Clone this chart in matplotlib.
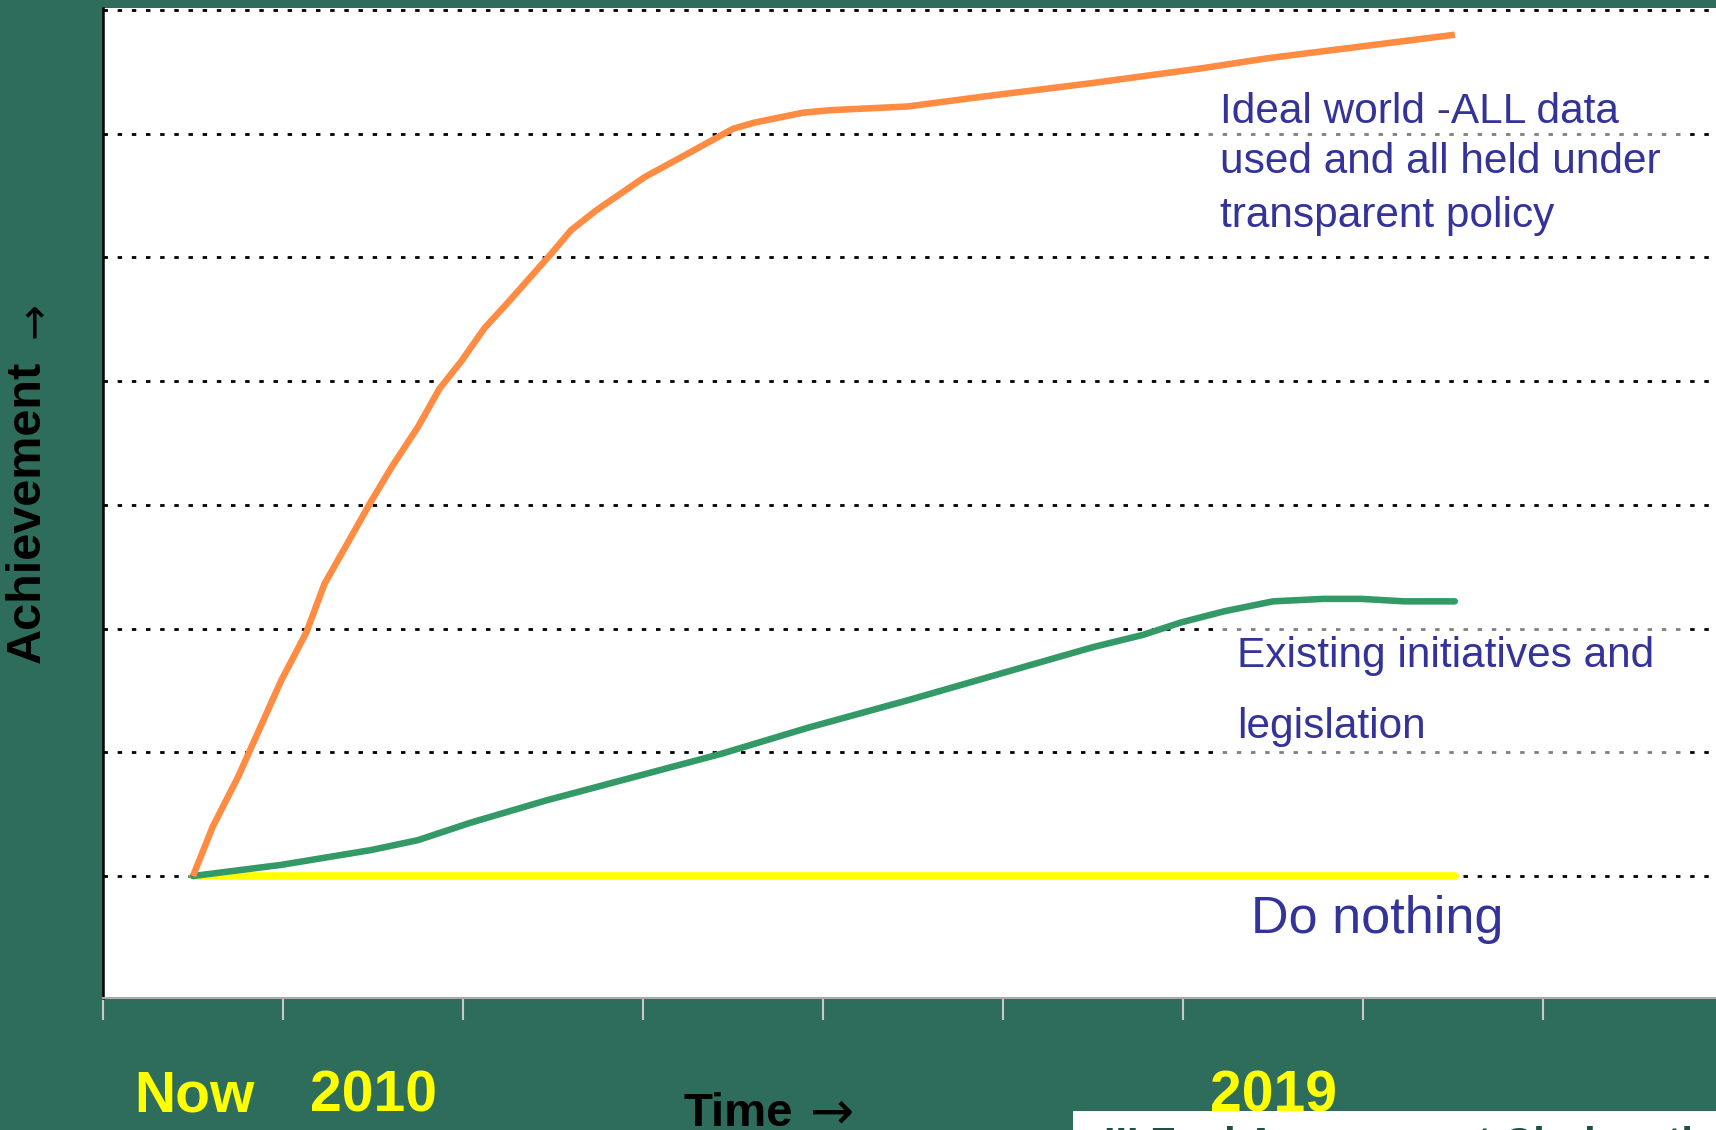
import matplotlib
matplotlib.use("Agg")
import matplotlib.pyplot as plt
from matplotlib.patches import Rectangle

# series (x: tick units, y: gridline units)
ideal_x = [0.5, 0.61, 0.75, 0.99, 1.13, 1.23, 1.37, 1.49, 1.61, 1.75, 1.87, 1.99,
           2.12, 2.24, 2.49, 2.6, 2.74, 2.86, 3.01, 3.25, 3.5, 3.62, 3.89, 4.04,
           4.47, 4.89, 5.5, 6.11, 6.47, 7.51]
ideal_y = [0.0, 0.4, 0.8, 1.58, 1.97, 2.36, 2.72, 3.03, 3.32, 3.63, 3.94, 4.16,
           4.43, 4.62, 5.03, 5.22, 5.38, 5.5, 5.65, 5.84, 6.04, 6.09, 6.17, 6.19,
           6.22, 6.3, 6.41, 6.53, 6.61, 6.8]

exist_x = [0.5, 0.99, 1.49, 1.75, 2.04, 2.46, 2.95, 3.44, 3.92, 4.47, 5.02, 5.5,
           5.78, 5.99, 6.23, 6.5, 6.78, 6.99, 7.23, 7.51]
exist_y = [0.0, 0.09, 0.21, 0.29, 0.43, 0.61, 0.8, 0.99, 1.2, 1.42, 1.65, 1.85,
           1.95, 2.05, 2.14, 2.22, 2.24, 2.24, 2.22, 2.22]

nothing_x = [0.5, 7.51]
nothing_y = [0.0, 0.0]

grid_levels = [0, 1, 2, 3, 4, 5, 6, 7]
x_ticks = [0, 1, 2, 3, 4, 5, 6, 7, 8, 9]

BG = "#2E6D5B"
BLUE = "#333399"
W, H = 1716, 1130


def px(x, y):
    """pixel position -> figure fraction"""
    return x / W, 1 - y / H


fig = plt.figure(figsize=(W / 100, H / 100), dpi=100, facecolor=BG)
ax = fig.add_axes([103 / W, 1 - 998 / H, 1620 / W, 990 / H])
ax.set_facecolor("white")

ax.set_xlim(0, 9)
ax.set_ylim(-0.986, 7.016)
ax.set_xticks(x_ticks)
ax.set_yticks(grid_levels)
ax.set_axisbelow(True)
ax.yaxis.grid(True, color="black", linewidth=2, linestyle=(0, (1.6, 3.5)))
ax.tick_params(axis="y", length=0, labelleft=False)
ax.tick_params(axis="x", length=16, width=1.5, color="#C8C8C8", labelbottom=False)

ax.spines["top"].set_visible(False)
ax.spines["right"].set_visible(False)
ax.spines["left"].set_color("black")
ax.spines["left"].set_linewidth(1.8)
ax.spines["bottom"].set_color("#AAAAAA")
ax.spines["bottom"].set_linewidth(1.5)

# half see-through boxes behind the labels (grey out the grid)
for (x0, y0, x1, y1) in [(1200, 80, 1684, 245), (1215, 615, 1688, 770)]:
    fx0, fy1 = px(x0, y0)
    fx1, fy0 = px(x1, y1)
    ax.add_patch(Rectangle((fx0, fy0), fx1 - fx0, fy1 - fy0, transform=fig.transFigure,
                           facecolor="white", alpha=0.5, edgecolor="none", zorder=1))

ax.plot(nothing_x, nothing_y, color="#FFFF00", linewidth=5.5, solid_capstyle="round", zorder=3)
ax.plot(exist_x, exist_y, color="#339966", linewidth=4.7, solid_capstyle="round", zorder=4)
ax.plot(ideal_x, ideal_y, color="#FF8C42", linewidth=4.7, solid_capstyle="butt", zorder=5)

font = ["Liberation Sans", "DejaVu Sans"]

# line labels
for txt, y in [("Ideal world -ALL data", 123), ("used and all held under", 173),
               ("transparent policy", 227)]:
    fig.text(*px(1220, y), txt, color=BLUE, fontsize=30.5, family=font, va="baseline")
for txt, y in [("Existing initiatives and", 667), ("legislation", 738)]:
    fig.text(*px(1237, y), txt, color=BLUE, fontsize=30.5, family=font, va="baseline")
fig.text(*px(1251, 933), "Do nothing", color=BLUE, fontsize=37.5, family=font, va="baseline")

# yellow time labels
for txt, x in [("Now", 194), ("2010", 373), ("2019", 1274)]:
    fig.text(*px(x, 1112), txt, color="#FFFF00", fontsize=41, fontweight="bold",
             family=font, ha="center", va="baseline")

# axis titles (arrow drawn thinner, as on the slide)
fig.text(*px(683, 1126), "Time", color="black", fontsize=34, fontweight="bold",
         family=font, ha="left", va="baseline")
fig.text(*px(832, 1113), "\u2192", color="black", fontsize=38,
         family="DejaVu Sans", ha="center", va="center")
fig.text(*px(27, 512), "Achievement", color="black", fontsize=35, fontweight="bold",
         family=font, rotation=90, ha="center", va="center")
fig.text(*px(35, 320), "\u2192", color="black", fontsize=31,
         family="DejaVu Sans", rotation=90, ha="center", va="center")

# white strip at the bottom right (next slide caption, mostly cut off)
fig.patches.append(Rectangle(px(1073, 1140), (W - 1073) / W, 29 / H,
                             transform=fig.transFigure, facecolor="white",
                             edgecolor="none", zorder=5))
fig.text(*px(1104, 1157), "III Fuel Assessment Choice: the T", color="#1F4F45",
         fontsize=30, fontweight="bold", family=font, va="baseline", zorder=6)

fig.savefig("out.png", dpi=100, facecolor=BG)
